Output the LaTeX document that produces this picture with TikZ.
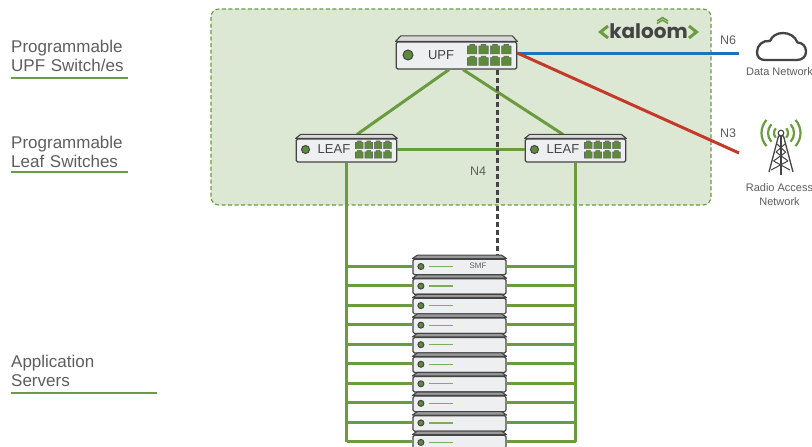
\documentclass[tikz,border=0pt]{standalone}
\usepackage{fontspec}
\setmainfont{Liberation Sans}
\newfontfamily\logofont{Poppins}
\usepackage{xcolor}
\usetikzlibrary{positioning}
\definecolor{zonefill}{HTML}{DCE8D3}
\definecolor{kgreen}{HTML}{6A9C3F}
\definecolor{portgreen}{HTML}{5C8C3A}
\definecolor{kgray}{HTML}{5E5E5E}
\definecolor{kdark}{HTML}{444444}
\definecolor{kblue}{HTML}{1A72C0}
\definecolor{kred}{HTML}{C4392A}
\definecolor{boxfill}{HTML}{EEEFF0}
\tikzset{SWnode/.style={shape=rectangle,draw=kdark,line width=1.2,fill=boxfill,rounded corners=1.5,inner sep=0,text=kdark},
	SRVnode/.style={SWnode,minimum width=93,minimum height=15.5},
	TOPstrip/.style={draw=kdark,line width=1.1,fill=black!15,line join=round},
	SRVstrip/.style={TOPstrip,fill=black!40},
	LEDnode/.style={shape=circle,draw=kdark,line width=1,fill=portgreen,inner sep=0},
	PORTbox/.style={draw=kdark!80,line width=.6,fill=portgreen},
	LINK/.style={draw=kgreen,line width=3},
	SIDElabel/.style={text=kgray,inner sep=0,align=left,font=\fontsize{17}{19.5}\selectfont},
	RULEline/.style={draw=kgreen,line width=1.3},
	SMALLlabel/.style={text=kgray,inner sep=0,align=center,font=\fontsize{11}{14}\selectfont},
	IFlabel/.style={text=kgray,inner sep=0,font=\fontsize{12.5}{14}\selectfont}}
\newcommand{\TopOf}[3]{\draw[#3] (#1.north west) -- ++(5,-#2) -- ([xshift=-5,yshift=#2]#1.north east) -- (#1.north east) -- cycle;}
\newcommand{\PortsAt}[5]{\foreach \c in {0,...,3} \foreach \r in {0,1} {
		\draw[PORTbox] ({#1+\c*#3},{#2+\r*#4+1.5}) -- ++(.25*#5,0) -- ++(0,-1.5) -- ++(.5*#5,0) -- ++(0,1.5) -- ++(.25*#5,0) -- ++(0,#5-1.5) -- ++(-#5,0) -- cycle;
	}}
\begin{document}
\begin{tikzpicture}[x=1pt,y=-1pt]
	\clip (0,0) rectangle (812,447);
	\fill[white] (0,0) rectangle (812,447);
	%
	\draw[draw=kgreen,line width=1.1,dash pattern=on 4 off 2.5,fill=zonefill,rounded corners=8] (211,9) rectangle (711,205);
	%
	\coordinate (dn) at (739,53);
	\coordinate (ran) at (739,153);
	\node[SWnode,minimum width=120.5,minimum height=27] (upf) at (456.5,55.5) {};
	\node[SWnode,minimum width=100.5,minimum height=23] (leafa) at (346.5,150.5) {};
	\node[SWnode,minimum width=100.5,minimum height=23] (leafb) at (575.5,150.5) {};
	\foreach \i in {0,...,9} {
		\node[SRVnode] (srv\i) at (459.5,{267+19.55*\i}) {};
	}
	%
	\path[LINK]
	([xshift=-7.5]upf.south) edge ([xshift=10.5,yshift=4]leafa.north)
	([xshift=6.5]upf.south) edge ([xshift=-12.5,yshift=4]leafb.north)
	([yshift=1.5]leafa.east) edge ([yshift=1.5]leafb.west)
	(leafa.south) edge ([yshift=1]leafa.south |- srv9.west)
	(leafb.south) edge ([yshift=1]leafb.south |- srv9.east);
	\foreach \i in {0,...,9} {
		\draw[LINK] ([yshift=1]leafa.south |- srv\i.west) -- ([yshift=1]srv\i.west);
		\draw[LINK] ([yshift=1]srv\i.east) -- ([yshift=1]leafb.south |- srv\i.east);
	}
	\draw[draw=kdark,line width=3,dash pattern=on 5 off 3] ([xshift=40.5]upf.south) -- ([xshift=37.5,yshift=3.5]srv0.north);
	\draw[draw=kblue,line width=3] ([yshift=2.5]upf.east) -- (dn);
	\draw[draw=kred,line width=3] ([yshift=2.5]upf.east) -- (ran);
	%
	\TopOf{upf}{5.5}{TOPstrip}
	\TopOf{leafa}{4}{TOPstrip}
	\TopOf{leafb}{4}{TOPstrip}
	\foreach \i in {0,...,9} {
		\TopOf{srv\i}{3.5}{SRVstrip}
		\node[LEDnode,minimum size=6] (led\i) at ([xshift=8.5,yshift=.5]srv\i.west) {};
		\draw[draw=kgreen!85,line width=1.3] ([xshift=5]led\i.east) -- ++(24,0);
	}
	\node[text=kgray,inner sep=0,font=\fontsize{8}{9}\selectfont] (smf) at (478,266) {SMF};
	%
	\node[LEDnode,minimum size=10] (upfled) at (408,55) {};
	\node[LEDnode,minimum size=8] (leafaled) at (305.5,149.5) {};
	\node[LEDnode,minimum size=8] (leafbled) at (534.5,149.5) {};
	\node[text=kdark,inner sep=0,font=\fontsize{13}{14}\selectfont] (upftxt) at (441,55.5) {UPF};
	\node[text=kdark,inner sep=0,font=\fontsize{13}{14}\selectfont] (leafatxt) at (334,149.5) {LEAF};
	\node[text=kdark,inner sep=0,font=\fontsize{13}{14}\selectfont] (leafbtxt) at (563,149.5) {LEAF};
	\PortsAt{467.5}{44.5}{11.4}{11.6}{9.3}
	\PortsAt{355.5}{141}{9.4}{9.4}{7.6}
	\PortsAt{584.5}{141}{9.4}{9.4}{7.6}
	%
	\node[IFlabel] (n6) at (728,40) {N6};
	\node[IFlabel] (n3) at (728,133) {N3};
	\node[IFlabel] (n4) at (478,171) {N4};
	%
	\draw[draw=kdark,line width=2.3,line join=round] (765,60) -- (797,60) .. controls (803,60) and (806,56) .. (806,51.5) .. controls (806,46) and (802,42.5) .. (797.5,42.5) .. controls (795,36) and (789,33) .. (783,33) .. controls (777,33) and (772,36) .. (770,41) .. controls (763,40) and (757,45) .. (757,52) .. controls (757,57) and (760,60) .. (765,60);
	\node[SMALLlabel] (dntxt) at (779.5,72) {Data Network};
	%
	\foreach \r in {7,13,19.5} {
		\draw[draw=kgreen,line width=2.2] (781,133) ++(-42:\r) arc (-42:42:\r);
		\draw[draw=kgreen,line width=2.2] (781,133) ++(138:\r) arc (138:222:\r);
	}
	\draw[draw=kdark,line width=1.1,fill=white] (781,133) circle (2.8);
	\draw[draw=kdark,line width=1.3,line join=round] (769,172) -- (778.5,136) -- (783.5,136) -- (793,172);
	\draw[draw=kdark,line width=1.6] (781,136) -- (781,175);
	\draw[draw=kdark,line width=1] (777,144) -- (785.5,152) (785,144) -- (776,152) (776,152) -- (788,161) (786,152) -- (773.5,161) (773.5,161) -- (790,170) (788,161) -- (771,170);
	\node[SMALLlabel] (rantxt) at (779.5,195) {Radio Access\\Network};
	%
	\node[inner sep=0,text=kdark,font=\logofont\bfseries\fontsize{20}{22}\selectfont] (logo) at (648.5,31) {kaloom};
	\draw[draw=kgreen,line width=3] (608,26) -- (600.5,32) -- (608,38);
	\draw[draw=kgreen,line width=3] (689,26) -- (696.5,32) -- (689,38);
	\draw[draw=kgreen,line width=1.5] (657,23.5) -- (662.5,20) -- (668,23.5);
	\draw[draw=kgreen,line width=1.5] (657,21) -- (662.5,17.5) -- (668,21);
	%
	\node[SIDElabel,anchor=south west,text width=117] (lblupf) at (11,72) {Programmable\\UPF Switch/es};
	\node[SIDElabel,anchor=south west,text width=117] (lblleaf) at (11,168) {Programmable\\Leaf Switches};
	\node[SIDElabel,anchor=south west,text width=146] (lblapp) at (11,387) {Application\\Servers};
	\draw[RULEline] ([yshift=-6]lblupf.south west) -- ([yshift=-6]lblupf.south east);
	\draw[RULEline] ([yshift=-4]lblleaf.south west) -- ([yshift=-4]lblleaf.south east);
	\draw[RULEline] ([yshift=-6]lblapp.south west) -- ([yshift=-6]lblapp.south east);
\end{tikzpicture}
\end{document}
